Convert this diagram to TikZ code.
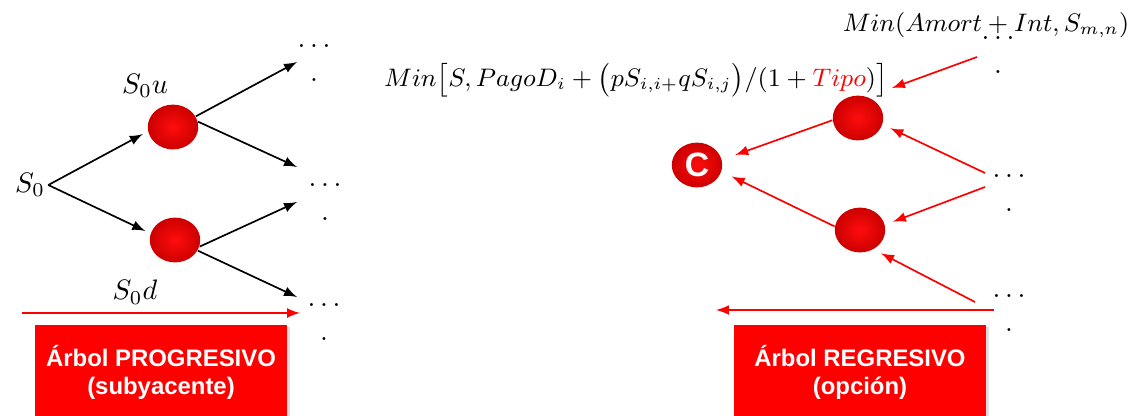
\documentclass[tikz,border=0pt]{standalone}
\usepackage{fontspec}
\newfontfamily\boxfont{Liberation Sans}
\usetikzlibrary{shapes.geometric, arrows, positioning, shadows}

\begin{document}
\begin{tikzpicture}[
    x=0.0125cm, y=-0.0125cm,
    node distance=2pt,
    state/.style={ellipse, inner color=red!95!white, outer color=red!80!black, minimum width=0.63cm, minimum height=0.56cm, inner sep=0pt},
    cont/.style={align=center, inner sep=1pt},
    treebox/.style={rectangle, fill=red, text=white, font=\boxfont\bfseries\fontsize{8.5}{10}\selectfont,
        minimum width=3.15cm, minimum height=1.2cm, align=center, anchor=north,
        drop shadow={opacity=0.25, shadow xshift=1pt, shadow yshift=-1pt}},
    formula/.style={inner sep=1pt, font=\fontsize{9.2}{11}\selectfont},
    link/.style={-latex, line width=0.6pt},
    back/.style={-latex, line width=0.6pt, red}
]
    \useasboundingbox (0,0) rectangle (1132,416);

    % Progressive tree
    \node[inner sep=1pt] (s0) at (30,185) {$S_0$};
    \node[state] (up) at (173,127) {};
    \node[state] (down) at (175,240) {};
    \node[inner sep=1pt, above=1pt of up, xshift=-0.35cm] (s0u) {$S_0u$};
    \node[inner sep=1pt, below=5pt of down, xshift=-0.5cm] (s0d) {$S_0d$};

    \node[cont] (d1) at (314,63) {$\ldots$\\.};
    \node[cont] (d2) at (325,202) {$\ldots$\\.};
    \node[cont] (d3) at (324,322) {$\ldots$\\.};

    \coordinate (t1) at (297,62);
    \coordinate (t2) at (297,167);
    \coordinate (t3) at (297,202);
    \coordinate (t4) at (297,297);

    \draw[link, shorten >=2pt] (s0.east) -- (up.190);
    \draw[link, shorten >=2pt] (s0.east) -- (down.165);
    \draw[link] (up.25) -- (t1);
    \draw[link] (up.12) -- (t2);
    \draw[link] (down.-15) -- (t3);
    \draw[link] (down.-25) -- (t4);

    \coordinate (h1) at (22,313);
    \coordinate (h2) at (300,313);
    \draw[back] (h1) -- (h2);
    \node[treebox] (prog) at (161,324) {Árbol PROGRESIVO\\(subyacente)};

    % Regressive tree
    \node[state, text=white, font=\boxfont\bfseries\large] (c) at (697,165) {C};
    \node[state] (ur) at (858,118) {};
    \node[state] (dr) at (860,230) {};

    \node[cont] (r0) at (998,55) {$\ldots$\\.};
    \node[cont] (r1) at (1009,193) {$\ldots$\\.};
    \node[cont] (r2) at (1009,313) {$\ldots$\\.};

    \node[formula] (amort) at (986,25) {$Min(Amort + Int, S_{m,n})$};
    \node[formula] (pago) at (636,80) {$Min\big[S, PagoD_i + \big(pS_{i,i+} qS_{i,j}\big)/(1+\textcolor{red}{Tipo})\big]$};

    \coordinate (a1) at (977,57);
    \coordinate (a2) at (892,88);
    \coordinate (s1) at (985,173);
    \coordinate (s2) at (985,187);
    \coordinate (s3) at (975,302);

    \draw[back] (a1) -- (a2);
    \draw[back, shorten >=3pt] (s1) -- (ur.-15);
    \draw[back, shorten >=3pt] (s2) -- (dr.12);
    \draw[back, shorten >=3pt] (s3) -- (dr.-55);
    \draw[back, shorten >=5pt] (ur.185) -- (c.12);
    \draw[back, shorten >=4pt] (dr.172) -- (c.-15);

    \coordinate (h3) at (994,310);
    \coordinate (h4) at (716,310);
    \draw[back] (h3) -- (h4);
    \node[treebox] (regr) at (860,324) {Árbol REGRESIVO\\(opción)};
\end{tikzpicture}
\end{document}
